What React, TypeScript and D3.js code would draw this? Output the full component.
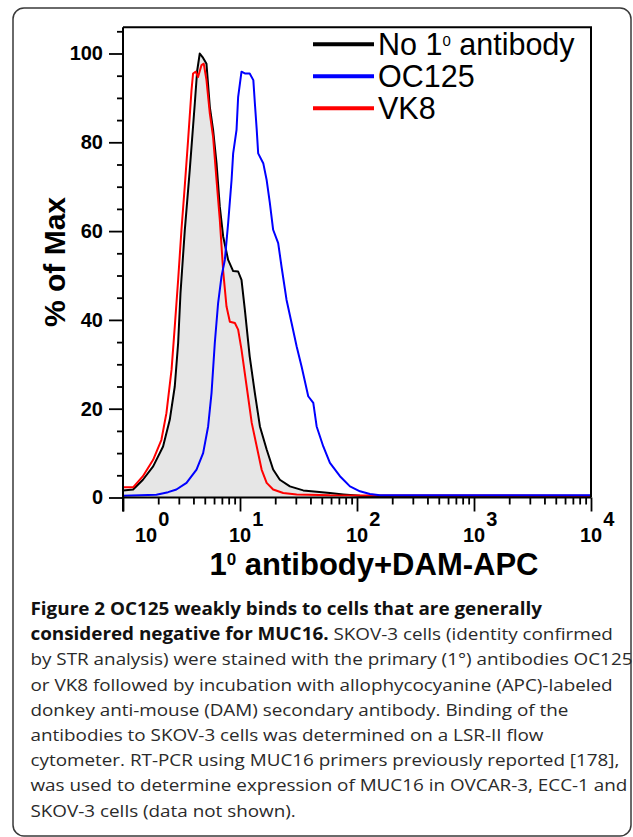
import React, { useEffect, useRef } from 'react';
import * as d3 from 'd3';

// Flow cytometry overlay: % of Max vs. 1° antibody + DAM-APC (log intensity)

// [intensity, % of max]
const noPrimary: [number, number][] = [
  [1.0, 1.6], [1.22, 1.8], [1.48, 4], [1.81, 7], [2.2, 11.5], [2.51, 17.5], [2.77, 25],
  [2.96, 34.8], [3.1, 46], [3.37, 60], [3.72, 73.8], [4.11, 88.8], [4.3, 96], [4.53, 100],
  [4.84, 99], [5.17, 97.7], [5.52, 88], [5.89, 82.8], [6.3, 75.3], [6.72, 65.5], [7.18, 58.8],
  [7.92, 53.5], [8.74, 51], [9.64, 50.9], [10.3, 49], [11.0, 42.3], [12.1, 31.8], [13.4, 23.5],
  [14.8, 16], [16.9, 10.8], [19.2, 6.3], [21.9, 4], [26.7, 2.5], [34.7, 1.6], [45.2, 1.3],
  [58.7, 1.0], [76.3, 0.7], [106, 0.4], [233, 0.3], [10000, 0.3],
];

const oc125: [number, number][] = [
  [1.0, 0.4], [1.93, 0.6], [2.43, 1.2], [2.86, 1.8], [3.49, 3.3], [4.25, 6.3], [4.84, 10],
  [5.34, 16], [5.71, 23.5], [6.09, 34.8], [6.5, 43.8], [6.95, 49.8], [7.42, 53.5], [7.92, 61.8],
  [8.47, 71.5], [8.74, 77.5], [9.34, 82.8], [9.64, 90.2], [10.3, 95.9], [11.0, 95.5], [12.1, 95.5],
  [13.0, 94], [13.4, 88.8], [13.9, 82.8], [14.3, 77.5], [15.8, 75.3], [16.9, 71.5], [18.0, 66.3],
  [19.2, 60.3], [21.2, 57.3], [22.7, 51.8], [25.0, 44.5], [27.6, 39.3], [30.5, 34], [33.6, 29.5],
  [38.3, 22.8], [42.3, 21.3], [45.2, 16], [51.5, 11.5], [58.7, 7.8], [71.5, 4.8], [87.1, 2.5],
  [106, 1.4], [129, 0.8], [157, 0.5], [10000, 0.5],
];

const vk8: [number, number][] = [
  [1.0, 2.3], [1.22, 2.3], [1.48, 4.8], [1.81, 8.5], [2.13, 13], [2.35, 19], [2.6, 28.8],
  [2.77, 38.5], [2.96, 49], [3.16, 60.3], [3.37, 70], [3.6, 80.5], [3.85, 91.7], [3.97, 95.5],
  [4.19, 95.9], [4.38, 94.7], [4.69, 97.4], [4.9, 97.7], [5.17, 94], [5.52, 86.5], [5.89, 81.2],
  [6.3, 71.5], [6.72, 62.5], [7.18, 51], [7.67, 43], [8.19, 39.6], [9.04, 39.3], [9.64, 37.8],
  [10.3, 33.3], [11.4, 25], [12.6, 16.8], [13.9, 11.5], [15.3, 6.3], [16.9, 3.3], [19.2, 1.8],
  [23.4, 1.0], [30.5, 0.7], [58.7, 0.5], [10000, 0.4],
];

const decades = [1, 10, 100, 1000, 10000];
const exponents = ['0', '1', '2', '3', '4'];
const yMajor = [0, 20, 40, 60, 80, 100];
const legendLabels = ['No 1', 'OC125', 'VK8'];

const captionLines: { bold: string; normal: string }[] = [
  { bold: 'Figure 2 OC125 weakly binds to cells that are generally', normal: '' },
  { bold: 'considered negative for MUC16.', normal: ' SKOV-3 cells (identity confirmed' },
  { bold: '', normal: 'by STR analysis) were stained with the primary (1°) antibodies OC125' },
  { bold: '', normal: 'or VK8 followed by incubation with allophycocyanine (APC)-labeled' },
  { bold: '', normal: 'donkey anti-mouse (DAM) secondary antibody. Binding of the' },
  { bold: '', normal: 'antibodies to SKOV-3 cells was determined on a LSR-II flow' },
  { bold: '', normal: 'cytometer. RT-PCR using MUC16 primers previously reported [178],' },
  { bold: '', normal: 'was used to determine expression of MUC16 in OVCAR-3, ECC-1 and' },
  { bold: '', normal: 'SKOV-3 cells (data not shown).' },
];

const AXIS_FONT = '"Liberation Sans", Arial, sans-serif';
const CAPTION_FONT = '"Open Sans", "Noto Sans", sans-serif';

const App = () => {
  const ref = useRef<SVGSVGElement>(null);

  useEffect(() => {
    const svg = d3.select(ref.current);
    svg.selectAll('*').remove();

    const left = 123, right = 591, top = 27.3, bottom = 497.5;

    const x = d3.scaleLog().domain([1, 10000]).range([left, right]);
    const y = d3.scaleLinear().domain([0, 105.9]).range([bottom, top]);

    // rounded panel border
    svg.append('rect')
      .attr('x', 13).attr('y', 8)
      .attr('width', 618).attr('height', 828)
      .attr('rx', 11)
      .attr('fill', 'none')
      .attr('stroke', '#3a3a3a')
      .attr('stroke-width', 1.5);

    svg.append('clipPath').attr('id', 'plot-clip')
      .append('rect')
      .attr('x', left).attr('y', top)
      .attr('width', right - left).attr('height', bottom - top);

    const line = d3.line<[number, number]>().x(d => x(d[0])).y(d => y(d[1]));
    const area = d3.area<[number, number]>().x(d => x(d[0])).y0(y(0)).y1(d => y(d[1]));

    const plot = svg.append('g').attr('clip-path', 'url(#plot-clip)');

    // shaded control histogram
    plot.append('path').datum(noPrimary).attr('d', area).attr('fill', '#e6e6e6');

    const series: { data: [number, number][]; color: string }[] = [
      { data: noPrimary, color: '#000000' },
      { data: vk8, color: '#ff0000' },
      { data: oc125, color: '#0000ff' },
    ];
    series.forEach(s => {
      plot.append('path').datum(s.data)
        .attr('d', line)
        .attr('fill', 'none')
        .attr('stroke', s.color)
        .attr('stroke-width', 2)
        .attr('stroke-linejoin', 'round');
    });

    // frame (top + right)
    svg.append('path')
      .attr('d', `M${left},${top}H${right}V${bottom}`)
      .attr('fill', 'none').attr('stroke', '#000').attr('stroke-width', 2);

    // y axis
    const yMinor = d3.range(5, 106, 5).filter(v => v % 20 !== 0);
    svg.append('g')
      .attr('transform', `translate(${left},0)`)
      .call(d3.axisLeft(y).tickValues(yMinor).tickSize(6).tickFormat(() => '').tickSizeOuter(0))
      .call(g => g.select('.domain').remove())
      .call(g => g.selectAll('line').attr('stroke-width', 1.8));

    svg.append('g')
      .attr('transform', `translate(${left},0)`)
      .call(d3.axisLeft(y).tickValues(yMajor).tickSize(14).tickPadding(6).tickSizeOuter(0))
      .call(g => g.select('.domain').remove())
      .call(g => g.selectAll('line').attr('stroke-width', 1.8))
      .call(g => g.selectAll('text')
        .attr('font-family', AXIS_FONT)
        .attr('font-size', 20)
        .attr('font-weight', 'bold')
        .attr('fill', '#000'));

    svg.append('line')
      .attr('x1', left).attr('x2', left)
      .attr('y1', top).attr('y2', bottom + 14)
      .attr('stroke', '#000').attr('stroke-width', 2);

    // x axis
    const xMinor: number[] = [];
    decades.slice(0, -1).forEach(d => d3.range(2, 10).forEach(m => xMinor.push(d * m)));
    svg.append('g')
      .attr('transform', `translate(0,${bottom})`)
      .call(d3.axisBottom(x).tickValues(xMinor).tickSize(7).tickFormat(() => '').tickSizeOuter(0))
      .call(g => g.select('.domain').remove())
      .call(g => g.selectAll('line').attr('stroke-width', 1.8));
    svg.append('g')
      .attr('transform', `translate(0,${bottom})`)
      .call(d3.axisBottom(x).tickValues(decades).tickSize(14).tickFormat(() => '').tickSizeOuter(0))
      .call(g => g.select('.domain').remove())
      .call(g => g.selectAll('line').attr('stroke-width', 1.8));

    svg.append('line')
      .attr('x1', left).attr('x2', right)
      .attr('y1', bottom).attr('y2', bottom)
      .attr('stroke', '#000').attr('stroke-width', 2);

    // decade labels: "10" centred on the tick, exponent raised after it
    // (first one nudged inside the axis like the cytometer software does)
    decades.forEach((d, i) => {
      const cx = x(d) + (i === 0 ? 23 : 0);
      const t = svg.append('text')
        .attr('x', cx - 11).attr('y', 541.5)
        .attr('font-family', AXIS_FONT).attr('font-size', 20).attr('font-weight', 'bold');
      t.append('tspan').text('10');
      t.append('tspan').attr('dx', 1).attr('dy', -16).text(exponents[i]);
    });

    // axis titles
    const xTitle = svg.append('text')
      .attr('x', 374).attr('y', 575)
      .attr('text-anchor', 'middle')
      .attr('font-family', AXIS_FONT).attr('font-size', 31).attr('font-weight', 'bold');
    xTitle.append('tspan').text('1');
    xTitle.append('tspan').attr('dy', -10).attr('font-size', 17).text('0');
    xTitle.append('tspan').attr('dy', 10).text(' antibody+DAM-APC');

    svg.append('text')
      .attr('transform', 'translate(65,262) rotate(-90)')
      .attr('text-anchor', 'middle')
      .attr('font-family', AXIS_FONT).attr('font-size', 30).attr('font-weight', 'bold')
      .text('% of Max');

    // legend
    const legendColors = ['#000000', '#0000ff', '#ff0000'];
    legendLabels.forEach((label, i) => {
      const ly = 44.3 + 32 * i;
      svg.append('line')
        .attr('x1', 313).attr('x2', 374)
        .attr('y1', ly).attr('y2', ly)
        .attr('stroke', legendColors[i]).attr('stroke-width', 4);
      const t = svg.append('text')
        .attr('x', 378).attr('y', ly + 10.7)
        .attr('font-family', AXIS_FONT).attr('font-size', 30.5);
      t.append('tspan').text(label);
      if (i === 0) {
        t.append('tspan').attr('dy', -9).attr('font-size', 15).text('0');
        t.append('tspan').attr('dy', 9).text(' antibody');
      }
    });

    // caption (slightly wide face, as in the source figure)
    const caption = svg.append('g')
      .attr('transform', 'translate(30.5,615) scale(1.11,1)');
    captionLines.forEach((ln, i) => {
      const t = caption.append('text')
        .attr('x', 0).attr('y', 25.2 * i)
        .attr('font-family', CAPTION_FONT).attr('font-size', 17)
        .attr('fill', '#2a2a2a');
      if (ln.bold) t.append('tspan').attr('font-weight', 'bold').attr('fill', '#111').text(ln.bold);
      if (ln.normal) t.append('tspan').text(ln.normal);
    });
  }, []);

  return (
    <svg
      ref={ref}
      width={633}
      height={837}
      style={{ position: 'absolute', left: 0, top: 0, background: '#fff' }}
    />
  );
};

export default App;
